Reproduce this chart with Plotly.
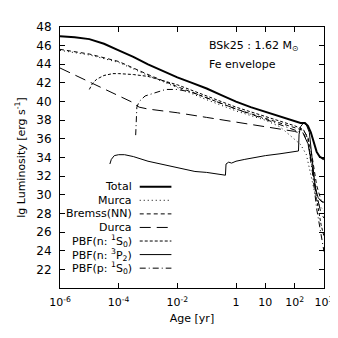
import plotly.graph_objects as go

# lg(age/yr) and lg(L/erg s^-1)
lgt_total = [-6, -5.5, -5, -4.5, -4, -3.5, -3, -2.5, -2, -1.5, -1, -0.5, 0, 0.5, 1, 1.5, 2, 2.2, 2.35, 2.45, 2.55, 2.65, 2.75, 2.85, 3.0]
lum_total = [47.0, 46.9, 46.7, 46.2, 45.5, 44.8, 44.0, 43.3, 42.6, 42.0, 41.4, 40.7, 40.0, 39.4, 38.9, 38.4, 37.9, 37.7, 37.7, 37.4, 36.7, 35.5, 34.6, 34.1, 33.8]

lgt_murca = [-6, -5, -4, -3, -2, -1, 0, 0.5, 1, 1.5, 2, 2.2, 2.4, 2.55, 2.7, 2.85, 3.0]
lum_murca = [45.5, 45.0, 44.2, 42.8, 41.5, 40.2, 39.0, 38.5, 38.0, 37.3, 36.0, 35.4, 34.3, 32.3, 30.0, 28.8, 28.3]

lgt_brems = [-6, -5, -4, -3, -2, -1, 0, 1, 2, 2.3, 2.45, 2.6, 2.75, 2.9, 3.0]
lum_brems = [45.6, 45.1, 44.3, 42.9, 41.6, 40.4, 39.2, 38.2, 37.2, 36.9, 36.2, 34.0, 31.0, 29.4, 29.0]

lgt_durca = [-6, -5, -4, -3.45, -3.4, -3.3, -3, -2, -1, 0, 1, 2, 2.3, 2.45, 2.6, 2.75, 2.9, 3.0]
lum_durca = [43.6, 42.1, 40.6, 39.8, 39.6, 39.4, 39.2, 38.8, 38.3, 37.8, 37.3, 36.8, 36.5, 35.5, 33.0, 30.0, 28.0, 27.5]

lgt_n1s0 = [-5.0, -4.9, -4.75, -4.5, -4.2, -4.0, -3.5, -3, -2, -1, 0, 1, 2, 2.3, 2.45, 2.6, 2.75, 2.9, 3.0]
lum_n1s0 = [41.3, 41.9, 42.4, 42.8, 43.0, 43.0, 42.9, 42.7, 41.8, 40.6, 39.4, 38.4, 37.4, 37.0, 36.0, 33.0, 29.5, 26.8, 25.5]

lgt_n3p2 = [-4.3, -4.25, -4.15, -4.0, -3.8, -3.5, -3.0, -2.7, -2.0, -1.4, -1.0, -0.6, -0.36, -0.34, -0.25, -0.15, 0, 0.3, 0.6, 1.0, 1.5, 2.0, 2.13, 2.15, 2.2, 2.3, 2.4, 2.5, 2.6, 2.7, 2.8, 2.9, 3.0]
lum_n3p2 = [33.3, 33.8, 34.2, 34.3, 34.3, 34.1, 33.6, 33.4, 32.9, 32.5, 32.4, 32.2, 32.1, 33.3, 33.5, 33.4, 33.6, 33.8, 34.0, 34.2, 34.4, 34.6, 34.7, 36.5, 37.3, 37.7, 37.5, 36.7, 34.0, 30.8, 29.7, 29.3, 29.2]

lgt_p1s0 = [-3.42, -3.41, -3.38, -3.3, -3.1, -2.8, -2.4, -2, -1.5, -1, 0, 1, 2, 2.3, 2.45, 2.6, 2.75, 2.9, 3.0]
lum_p1s0 = [36.4, 38.0, 39.4, 40.0, 40.6, 40.9, 41.3, 41.3, 41.0, 40.4, 39.2, 38.1, 37.0, 36.6, 35.6, 32.5, 28.5, 25.5, 23.9]

names = ["Total", "Murca", "Bremss(NN)", "Durca",
         "PBF(n: <sup>1</sup>S<sub>0</sub>)", "PBF(n: <sup>3</sup>P<sub>2</sub>)", "PBF(p: <sup>1</sup>S<sub>0</sub>)"]
series = [(lgt_total, lum_total), (lgt_murca, lum_murca), (lgt_brems, lum_brems), (lgt_durca, lum_durca),
          (lgt_n1s0, lum_n1s0), (lgt_n3p2, lum_n3p2), (lgt_p1s0, lum_p1s0)]
dashes = ["solid", "1px,3px", "4px,3px", "11px,6px", "3px,2px", "solid", "6px,3px,1px,3px"]
widths = [2, 1, 1, 1, 1, 1, 1]

x_tickvals = [1e-6, 1e-4, 1e-2, 1, 10, 1e2, 1e3]
x_ticktext = ["10<sup>-6</sup>", "10<sup>-4</sup>", "10<sup>-2</sup>", "1", "10", "10<sup>2</sup>", "10<sup>3</sup>"]
y_tickvals = list(range(22, 49, 2))

font = "DejaVu Sans"
fig = go.Figure()
for (lgt, lum), name, d, w in zip(series, names, dashes, widths):
    fig.add_trace(go.Scatter(x=[10 ** v for v in lgt], y=lum, mode="lines", name=name,
                             line=dict(color="black", width=w, dash=d), showlegend=False))

# hand-made legend: text right-aligned, line sample to the right (gnuplot style)
row_y = [0.388, 0.336, 0.284, 0.232, 0.180, 0.128, 0.076]
for name, d, w, yy in zip(names, dashes, widths, row_y):
    fig.add_annotation(x=0.28, y=yy, xref="paper", yref="paper", text=name, showarrow=False,
                       xanchor="right", yanchor="middle", font=dict(family=font, size=11, color="black"))
    fig.add_shape(type="line", xref="paper", yref="paper", x0=0.302, x1=0.422, y0=yy, y1=yy,
                  line=dict(color="black", width=w, dash=d))

fig.add_annotation(x=0.556, y=0.929, xref="paper", yref="paper", text="BSk25 : 1.62 M<sub>⊙</sub>",
                   showarrow=False, xanchor="left", yanchor="middle", font=dict(family=font, size=11, color="black"))
fig.add_annotation(x=0.556, y=0.857, xref="paper", yref="paper", text="Fe envelope",
                   showarrow=False, xanchor="left", yanchor="middle", font=dict(family=font, size=11, color="black"))

axis_common = dict(showgrid=False, zeroline=False, showline=True, linecolor="black", linewidth=1,
                   mirror="allticks", ticks="inside", ticklen=5, tickcolor="black")
fig.update_xaxes(type="log", range=[-6, 3], tickvals=x_tickvals, ticktext=x_ticktext,
                 tickfont=dict(family=font, size=11, color="black"), ticklabelstandoff=4,
                 title=dict(text="Age [yr]", font=dict(family=font, size=11, color="black"), standoff=6),
                 **axis_common)
fig.update_yaxes(range=[20, 48], tickvals=y_tickvals,
                 tickfont=dict(family=font, size=12, color="black"), ticklabelstandoff=5,
                 title=dict(text="lg Luminosity [erg s<sup>-1</sup>]", font=dict(family=font, size=11, color="black"), standoff=8),
                 **axis_common)
fig.update_layout(width=338, height=338, margin=dict(l=52, r=18, t=14, b=58),
                  plot_bgcolor="white", paper_bgcolor="white", showlegend=False)
fig.write_html("out.html")
